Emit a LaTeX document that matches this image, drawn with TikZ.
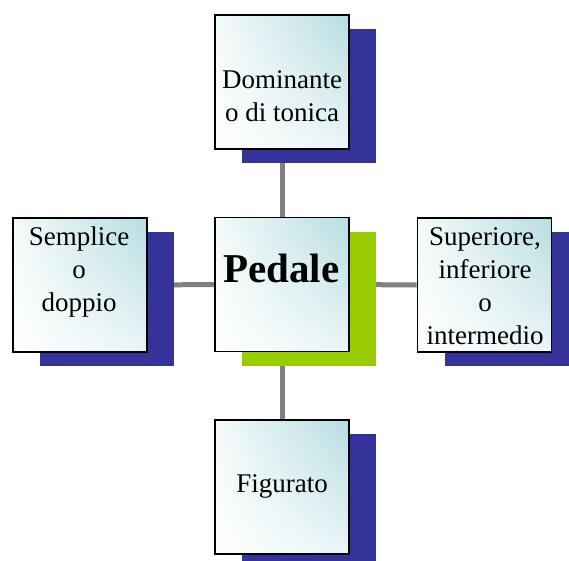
\documentclass[tikz,border=0pt]{standalone}
\usepackage{fontspec}
\setmainfont{Liberation Serif}
\usetikzlibrary{shadows,shadings}
\pgfdeclarelayer{background}
\pgfsetlayers{background,main}
\definecolor{shadowblue}{HTML}{333399}
\definecolor{shadowgreen}{HTML}{99CC00}
\definecolor{tealtint}{HTML}{B7DDE1}
\definecolor{tealpale}{HTML}{EAF5F6}
\definecolor{tealwhite}{HTML}{F4FAFA}
\definecolor{linkgray}{HTML}{808080}
\tikzset{
  box/.style={draw=black, line width=1.8pt, minimum size=134pt, inner sep=0pt,
    upper right=tealtint, upper left=tealwhite, lower left=white, lower right=tealpale},
  blueshadow/.style={general shadow={fill=shadowblue, shadow xshift=27pt, shadow yshift=-14pt}},
  greenshadow/.style={general shadow={fill=shadowgreen, shadow xshift=27pt, shadow yshift=-14pt}},
  boxtext/.style={font=\fontsize{27}{33}\selectfont, align=center, inner sep=0pt, anchor=north},
  titletext/.style={font=\fontsize{41}{48}\selectfont\bfseries, align=center, inner sep=0pt, anchor=north},
  link/.style={draw=linkgray, line width=5pt}
}
\begin{document}
\begin{tikzpicture}[x=1pt,y=-1pt]
\useasboundingbox (0,0) rectangle (569,560);
% boxes
\node[box, blueshadow] (top) at (282,82) {};
\node[box, greenshadow] (center) at (282,284.5) {};
\node[box, blueshadow] (left) at (80,285) {};
\node[box, blueshadow] (right) at (484.5,285) {};
\node[box, blueshadow] (bottom) at (282,487) {};
% texts
\node[boxtext] (topT) at (282,68) {\rule{0pt}{20pt}Dominante\\o di tonica};
\node[titletext] (centerT) at (281.5,252) {\rule{0pt}{30pt}Pedale};
\node[boxtext] (leftT) at (79,225) {\rule{0pt}{20pt}Semplice\\o\\doppio};
\node[boxtext] (rightT) at (485,225) {\rule{0pt}{20pt}Superiore,\\inferiore\\o\\intermedio};
\node[boxtext] (bottomT) at (282,472) {\rule{0pt}{20pt}Figurato};
% connectors
\begin{pgfonlayer}{background}
\draw[link] (top.south) -- (center.north);
\draw[link] (center.south) -- (bottom.north);
\draw[link] (left.east) -- (center.west);
\draw[link] (center.east) -- (right.west);
\end{pgfonlayer}
\end{tikzpicture}
\end{document}
